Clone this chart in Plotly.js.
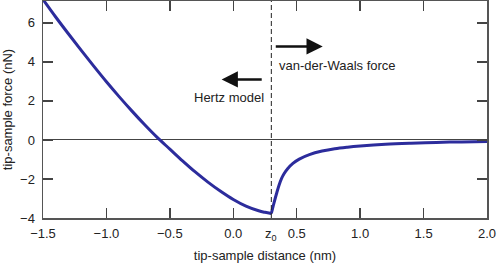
<!DOCTYPE html>
<html>
<head>
<meta charset="utf-8">
<script src="https://cdn.plot.ly/plotly-3.0.1.min.js"></script>
<style>html,body{margin:0;padding:0;background:#fff;}#chart{width:497px;height:263px;}</style>
</head>
<body>
<div id="chart"></div>
<script>
// Hertz model branch (x < z0)
const hertzX = [-1.5,-1.4,-1.3,-1.2,-1.1,-1.0,-0.9,-0.8,-0.7,-0.6,-0.5,-0.4,-0.3,-0.2,-0.1,0.0,0.1,0.2,0.25,0.3];
const hertzY = [7.2,6.3,5.44,4.6,3.78,2.98,2.22,1.49,0.79,0.13,-0.47,-1.07,-1.64,-2.16,-2.63,-3.05,-3.39,-3.63,-3.71,-3.77];
// van-der-Waals branch (x > z0)
const vdwX = [0.3,0.32,0.34,0.36,0.38,0.4,0.43,0.47,0.52,0.6,0.7,0.8,0.9,1.0,1.2,1.4,1.6,1.8,2.0];
const vdwY = [-3.77,-3.25,-2.77,-2.33,-1.98,-1.73,-1.46,-1.2,-0.98,-0.75,-0.57,-0.45,-0.37,-0.31,-0.22,-0.165,-0.125,-0.1,-0.08];
const z0 = 0.3;
const xTicks = [-1.5,-1.0,-0.5,0.0,0.5,1.0,1.5,2.0];
const yTicks = [-4,-2,0,2,4,6];
const labels = {x: 'tip-sample distance (nm)', y: 'tip-sample force (nN)', vdw: 'van-der-Waals force', hertz: 'Hertz model', z0: 'z<sub>0</sub>'};
const arrowVdw = {tail: 0.323, head: 0.705, y: 4.79};
const arrowHertz = {tail: 0.236, head: -0.092, y: 3.10};

const curveColor = '#2c2c9c';
const font = {family: '"Liberation Sans", Arial, Helvetica, sans-serif', size: 13, color: '#222'};

const traces = [
  {x: hertzX, y: hertzY, mode: 'lines', line: {color: curveColor, width: 3, shape: 'spline', smoothing: 1}, hoverinfo: 'skip'},
  {x: vdwX, y: vdwY, mode: 'lines', line: {color: curveColor, width: 3, shape: 'spline', smoothing: 1}, hoverinfo: 'skip'}
];

const axisCommon = {
  showline: true, mirror: 'ticks', linecolor: '#555', linewidth: 1.5,
  ticks: 'inside', ticklen: 10, tickwidth: 1.5, tickcolor: '#444',
  showgrid: false, tickfont: font
};

const layout = {
  width: 497, height: 263,
  margin: {l: 43, r: 10, t: 1, b: 45},
  paper_bgcolor: '#fff', plot_bgcolor: '#fff',
  font: font,
  showlegend: false,
  xaxis: Object.assign({}, axisCommon, {
    range: [-1.5, 2.0], tickvals: xTicks, tickformat: '.1f', zeroline: false, ticklabelstandoff: 3,
    title: {text: labels.x, font: font, standoff: 12}
  }),
  yaxis: Object.assign({}, axisCommon, {
    range: [-4, 7.12], tickvals: yTicks, zeroline: true, zerolinecolor: '#444', zerolinewidth: 1, ticklabelstandoff: 4,
    title: {text: labels.y, font: font, standoff: 5}
  }),
  shapes: [
    {type: 'line', xref: 'x', yref: 'paper', x0: z0, x1: z0, y0: 0, y1: 1,
     line: {color: '#222', width: 1, dash: '5px,3px'}}
  ],
  annotations: [
    {x: arrowVdw.head, y: arrowVdw.y, ax: arrowVdw.tail, ay: arrowVdw.y, xref: 'x', yref: 'y', axref: 'x', ayref: 'y',
     text: '', showarrow: true, arrowhead: 2, arrowsize: 1.3, arrowwidth: 2.5, arrowcolor: '#111'},
    {x: arrowHertz.head, y: arrowHertz.y, ax: arrowHertz.tail, ay: arrowHertz.y, xref: 'x', yref: 'y', axref: 'x', ayref: 'y',
     text: '', showarrow: true, arrowhead: 2, arrowsize: 1.3, arrowwidth: 2.5, arrowcolor: '#111'},
    {x: 0.347, y: 3.81, xref: 'x', yref: 'y', text: labels.vdw, showarrow: false, xanchor: 'left', yanchor: 'middle', font: font},
    {x: 0.258, y: 2.15, xref: 'x', yref: 'y', text: labels.hertz, showarrow: false, xanchor: 'right', yanchor: 'middle', font: font},
    {x: z0, y: 0, xref: 'x', yref: 'paper', yshift: -6, text: labels.z0, showarrow: false, xanchor: 'center', yanchor: 'top', font: font}
  ]
};

Plotly.newPlot('chart', traces, layout, {displayModeBar: false, staticPlot: true});
</script>
</body>
</html>
